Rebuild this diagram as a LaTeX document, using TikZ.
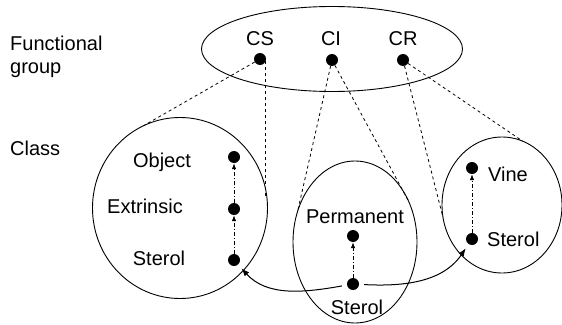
\documentclass[tikz,border=0pt]{standalone}
\usepackage{fontspec}
\setmainfont{Liberation Sans}
\usetikzlibrary{shapes.geometric,arrows.meta}

\tikzset{
  dot/.style={circle,fill=black,inner sep=0pt,minimum size=12pt},
  blob/.style={draw,ellipse,line width=0.9pt,inner sep=0pt,outer sep=0pt},
  txt/.style={anchor=base,inner sep=0pt,font=\fontsize{20}{24}\selectfont},
  link/.style={line width=0.8pt,dash pattern=on 3pt off 3pt},
  rise/.style={line width=0.8pt,dash pattern=on 4pt off 2pt on 1pt off 2pt,-{Latex[length=6pt,width=4.5pt]}},
  hop/.style={line width=1pt,-{Latex[length=8pt,width=6pt]},shorten <=5pt,shorten >=5pt}
}

\begin{document}
\begin{tikzpicture}[x=1pt,y=-1pt]
  \useasboundingbox (0,0) rectangle (562,324);

  % row labels
  \node[txt,anchor=base west] (lfun) at (10,50) {Functional};
  \node[txt,anchor=base west] (lgrp) at (10,73) {group};
  \node[txt,anchor=base west] (lcls) at (10,155) {Class};

  % functional groups
  \node[blob,minimum width=261pt,minimum height=85pt] (fg) at (332,49) {};
  \node[txt] (tcs) at (260,45) {CS};
  \node[txt] (tci) at (331,45) {CI};
  \node[txt] (tcr) at (403,45) {CR};
  \node[dot] (cs) at (260,59) {};
  \node[dot] (ci) at (332,60) {};
  \node[dot] (cr) at (403,60) {};

  % classes
  \node[blob,minimum width=175pt,minimum height=181pt] (cls) at (180,208) {};
  \node[blob,minimum width=124pt,minimum height=162pt] (cli) at (355,242) {};
  \node[blob,minimum width=120pt,minimum height=136pt] (clr) at (502,205) {};

  \node[dot] (sobj) at (234,157) {};
  \node[dot] (sext) at (234,209) {};
  \node[dot] (sster) at (234,260) {};
  \node[txt] at (162,167) {Object};
  \node[txt] at (145,213) {Extrinsic};
  \node[txt] at (159,265) {Sterol};

  \node[dot] (iper) at (353,236) {};
  \node[dot] (ister) at (353,284) {};
  \node[txt] at (355,223) {Permanent};
  \node[txt] at (357,314) {Sterol};

  \node[dot] (rvine) at (472,168) {};
  \node[dot] (rster) at (472,239) {};
  \node[txt,anchor=base west] at (488,181) {Vine};
  \node[txt,anchor=base west] at (487,246) {Sterol};

  % group to class
  \draw[link] (cs) -- (cls.114);
  \draw[link] (cs.-20) -- (cs.-20 |- cls.8);
  \draw[link] (ci) -- (cli.152);
  \draw[link] (ci) -- (cli.38);
  \draw[link] (cr) -- (clr.192);
  \draw[link] (cr) -- (clr.72);

  % inside classes
  \draw[rise] (sster) -- (sext);
  \draw[rise] (sext) -- (sobj);
  \draw[rise] (ister) -- (iper);
  \draw[rise] (rster) -- (rvine);

  % between classes
  \draw[hop] (ister) to[out=190,in=-48] (sster);
  \draw[hop] (ister) to[out=-3,in=236] (rster);
\end{tikzpicture}
\end{document}
